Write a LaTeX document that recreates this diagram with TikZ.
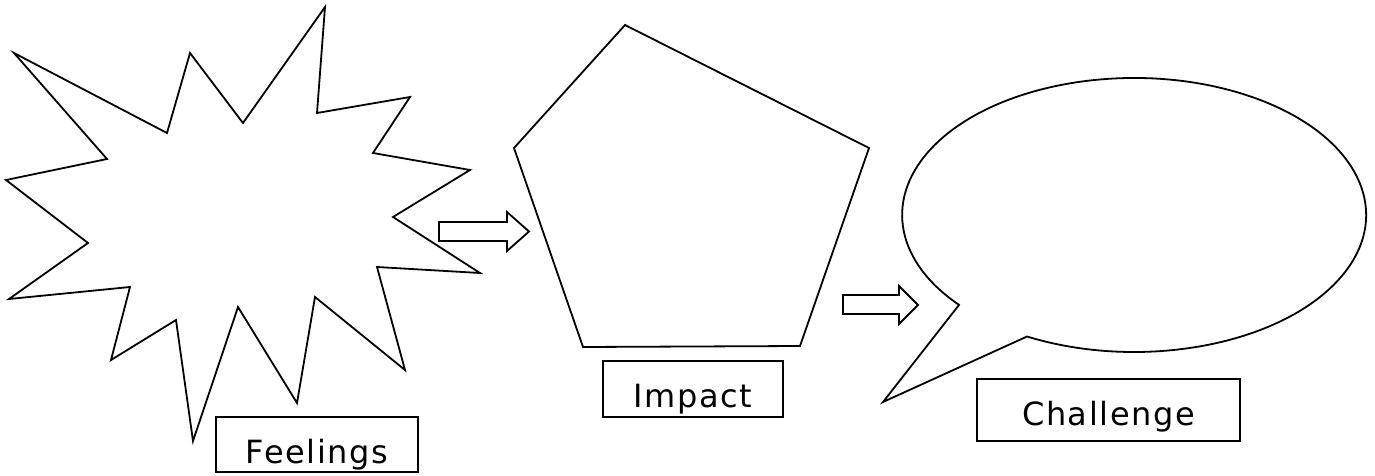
\documentclass[tikz,border=0pt]{standalone}
\usepackage{fontspec}
\usepackage{tikz}
\usetikzlibrary{positioning}
\newfontfamily\boxfont[LetterSpace=5]{DejaVu Sans}

\begin{document}
\begin{tikzpicture}[x=1pt, y=1pt, line width=1.8pt, line join=miter]
    \tikzstyle{namebox} = [draw, fill=white, inner sep=0pt, text height=46pt,
    font=\boxfont\fontsize{32}{38}\selectfont, anchor=base]
    \tikzstyle{fat} = [draw, fill=white]
    \useasboundingbox (0,0) rectangle (1375,475);
    % feelings burst
    \draw (14,422) -- (167,342) -- (190,422) -- (243,352) -- (325,468) --
    (317,362) -- (410,378) -- (373,322) -- (470,305) -- (393,258) --
    (480,202) -- (377,208) -- (405,105) -- (315,178) -- (297,72) --
    (238,168) -- (193,34) -- (176,155) -- (111,115) -- (130,188) --
    (9,176) -- (88,232) -- (6,295) -- (107,316) -- cycle;
    % impact pentagon
    \draw (625,450) -- (869,327) -- (800,129) -- (583,128) -- (514,327) -- cycle;
    % challenge bubble
    \draw (958.9,169.9) -- (883,73) -- (1027,138.5)
    arc[start angle=242.5, end angle=581, x radius=232, y radius=137] -- cycle;
    % block arrows
    \draw[fat] (439,253) -- (507,253) -- (507,263) -- (529,243.5) -- (507,224)
    -- (507,234) -- (439,234) -- cycle;
    \draw[fat] (843,180) -- (899,180) -- (899,189) -- (918,170) -- (899,151)
    -- (899,161) -- (843,161) -- cycle;
    % boxes
    \node [namebox, text depth=9pt, minimum width=202pt] at (317,12) (feelings) {Feelings};
    \node [namebox, text depth=10pt, minimum width=180pt] at (693,68) (impact) {Impact};
    \node [namebox, text depth=16pt, minimum width=263pt] at (1108.5,50) (challenge) {Challenge};
\end{tikzpicture}
\end{document}
